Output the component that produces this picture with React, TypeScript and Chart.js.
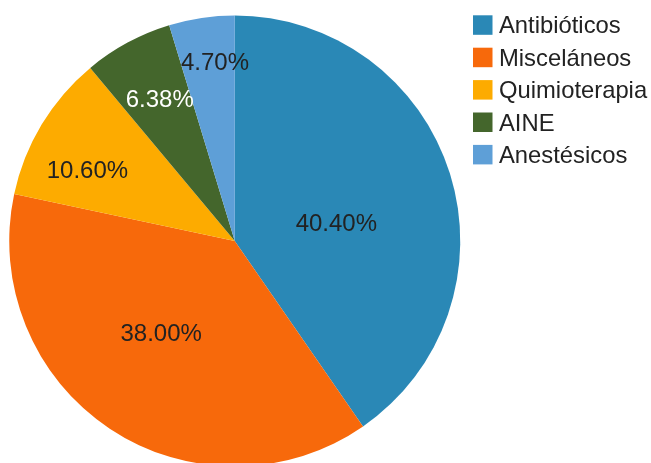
import React, { useEffect, useRef } from "react";
import { Chart, registerables } from "chart.js";

Chart.register(...registerables);

const categories = ["Antibióticos", "Misceláneos", "Quimioterapia", "AINE", "Anestésicos"];
const shares = [40.4, 38.0, 10.6, 6.38, 4.7];
const sliceLabels = ["40.40%", "38.00%", "10.60%", "6.38%", "4.70%"];
const colors = ["#2A88B6", "#F7690B", "#FDAB00", "#44662C", "#5E9FD7"];
const labelColors = ["#222222", "#222222", "#222222", "#FFFFFF", "#222222"];

// label placement: fraction of radius and angle offset (degrees) from slice mid-angle
const labelPlacement = [
  { r: 0.458, da: 7.0 },
  { r: 0.519, da: 5.27 },
  { r: 0.726, da: -5.26 },
  { r: 0.715, da: 0.64 },
  { r: 0.802, da: 2.18 },
];

const FONT = "'Liberation Sans', Arial, sans-serif";

const sliceLabelPlugin = {
  id: "sliceLabels",
  afterDatasetsDraw(chart: any) {
    const ctx = chart.ctx;
    const meta = chart.getDatasetMeta(0);
    ctx.save();
    ctx.font = `24px ${FONT}`;
    ctx.textAlign = "center";
    ctx.textBaseline = "alphabetic";
    meta.data.forEach((arc: any, i: number) => {
      const { x, y, startAngle, endAngle, outerRadius } = arc.getProps(
        ["x", "y", "startAngle", "endAngle", "outerRadius"],
        true
      );
      const p = labelPlacement[i];
      const a = (startAngle + endAngle) / 2 + (p.da * Math.PI) / 180;
      const r = outerRadius * p.r;
      const lx = x + r * Math.cos(a);
      const ly = y + r * Math.sin(a);
      ctx.fillStyle = labelColors[i];
      ctx.fillText(sliceLabels[i], lx, ly + 0.358 * 24);
    });
    ctx.restore();
  },
};

const legendPlugin = {
  id: "customLegend",
  afterDraw(chart: any) {
    const ctx = chart.ctx;
    ctx.save();
    ctx.font = `23.8px ${FONT}`;
    ctx.textAlign = "left";
    ctx.textBaseline = "alphabetic";
    const labels: string[] = chart.data.labels;
    const bg: string[] = chart.data.datasets[0].backgroundColor;
    labels.forEach((lab, i) => {
      const top = 15.3 + i * 32.4;
      ctx.fillStyle = bg[i];
      ctx.fillRect(473, top, 19.5, 19.5);
      ctx.fillStyle = "#222222";
      ctx.fillText(lab, 499, top + 18);
    });
    ctx.restore();
  },
};

export default function App() {
  const ref = useRef<HTMLCanvasElement>(null);
  useEffect(() => {
    document.body.style.margin = "0";
    const chart = new Chart(ref.current!, {
      type: "pie",
      data: {
        labels: categories,
        datasets: [
          {
            data: shares,
            backgroundColor: colors,
            borderWidth: 0,
            hoverOffset: 0,
          },
        ],
      },
      options: {
        responsive: false,
        animation: false,
        layout: { padding: { left: 9, top: 15.5, right: 190.5, bottom: 3.5 } },
        plugins: {
          legend: { display: false },
          tooltip: { enabled: false },
        },
      },
      plugins: [sliceLabelPlugin, legendPlugin],
    });
    return () => chart.destroy();
  }, []);
  return (
    <div style={{ position: "fixed", left: 0, top: 0, width: 651, height: 463, overflow: "hidden", background: "#fff" }}>
      <canvas ref={ref} width={651} height={470} style={{ display: "block" }} />
    </div>
  );
}
